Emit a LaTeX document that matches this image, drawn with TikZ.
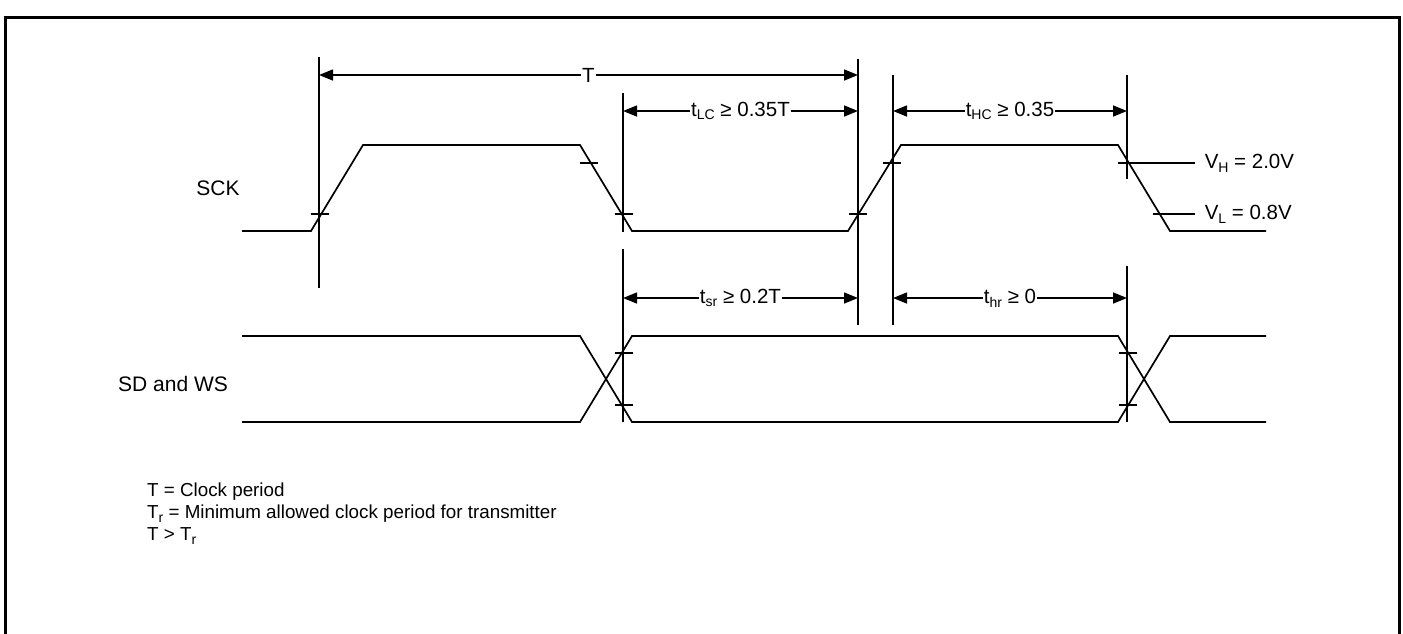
\documentclass[tikz,border=0pt]{standalone}
\usepackage{fontspec}
\setmainfont{Liberation Sans}
\usetikzlibrary{arrows.meta}
\newcommand\lowidx[1]{\raisebox{-0.35ex}{\fontsize{14}{14}\selectfont #1}}
\begin{document}
\begin{tikzpicture}[x=1pt,y=-1pt,
  wave/.style={line width=1.7pt, line join=miter},
  guide/.style={line width=1.7pt},
  tick/.style={line width=1.5pt},
  dim/.style={line width=1.5pt, {Triangle[length=14pt,width=11pt]}-{Triangle[length=14pt,width=11pt]}},
  lbl/.style={fill=white, inner sep=1pt, font=\fontsize{20.5}{24}\selectfont},
  txt/.style={inner sep=0pt, anchor=west, font=\fontsize{20.5}{24}\selectfont},
  sig/.style={inner sep=0pt, font=\fontsize{21}{24}\selectfont},
  note/.style={inner sep=0pt, anchor=west, font=\fontsize{18.8}{22}\selectfont},
]
\useasboundingbox (0,0) rectangle (1403,633);
\draw[line width=3pt] (5,640) -- (5,17) -- (1399,17) -- (1399,640);

% waveforms
\draw[wave] (242,231) -- (311,231) -- (363,145) -- (580,145) -- (632,231) -- (848,231) -- (901,145) -- (1118,145) -- (1170,231) -- (1266,231);
\draw[wave] (242,336) -- (580,336) -- (632,422) -- (1118,422) -- (1170,336) -- (1266,336);
\draw[wave] (242,422) -- (580,422) -- (632,336) -- (1118,336) -- (1170,422) -- (1266,422);

% guide coordinates
\coordinate (v1t) at (319,57);   \coordinate (v1b) at (319,288);
\coordinate (v2t) at (623,93);   \coordinate (v2m) at (623,232);
\coordinate (v2n) at (623,249);  \coordinate (v2b) at (623,422);
\coordinate (v3t) at (858,59);   \coordinate (v3b) at (858,325);
\coordinate (v4t) at (893,75);   \coordinate (v4b) at (893,325);
\coordinate (v5t) at (1127,75);  \coordinate (v5m) at (1127,179);
\coordinate (v5n) at (1127,266); \coordinate (v5b) at (1127,422);
\draw[guide] (v1t) -- (v1b);
\draw[guide] (v2t) -- (v2m);
\draw[guide] (v2n) -- (v2b);
\draw[guide] (v3t) -- (v3b);
\draw[guide] (v4t) -- (v4b);
\draw[guide] (v5t) -- (v5m);
\draw[guide] (v5n) -- (v5b);

% ticks on SCK
\foreach \x/\y in {320/214, 589/163, 624/214, 858/214, 892/163}
  \draw[tick] (\x-9,\y) -- (\x+9,\y);
% ticks on SD and WS
\foreach \x/\y in {624/353, 624/405, 1128/353, 1128/405}
  \draw[tick] (\x-9,\y) -- (\x+9,\y);

% threshold lines
\coordinate (vha) at (1118,163); \coordinate (vhb) at (1195,163);
\coordinate (vla) at (1153,214); \coordinate (vlb) at (1195,214);
\draw[tick] (vha) -- (vhb) node[txt, xshift=9pt] (vh) {V\lowidx{H} = 2.0V};
\draw[tick] (vla) -- (vlb) node[txt, xshift=9pt] (vl) {V\lowidx{L} = 0.8V};

% dimension arrows
\coordinate (ta) at (319,75);   \coordinate (tb) at (858,75);
\coordinate (lca) at (623,111); \coordinate (lcb) at (858,111);
\coordinate (hca) at (893,111); \coordinate (hcb) at (1127,111);
\coordinate (sra) at (623,298); \coordinate (srb) at (858,298);
\coordinate (hra) at (893,298); \coordinate (hrb) at (1127,298);
\draw[dim] (ta) -- node[lbl] (tl) {T} (tb);
\draw[dim] (lca) -- node[lbl] (lcl) {t\lowidx{LC} ≥ 0.35T} (lcb);
\draw[dim] (hca) -- node[lbl] (hcl) {t\lowidx{HC} ≥ 0.35} (hcb);
\draw[dim] (sra) -- node[lbl] (srl) {t\lowidx{sr} ≥ 0.2T} (srb);
\draw[dim] (hra) -- node[lbl] (hrl) {t\lowidx{hr} ≥ 0} (hrb);

% signal names
\node[sig] (sck) at (218,188) {SCK};
\node[sig, anchor=west] (sdws) at (118,384) {SD and WS};

% notes
\node[note] (n1) at (147,492) {T = Clock period};
\node[note] (n2) at (147,514) {T\lowidx{r} = Minimum allowed clock period for transmitter};
\node[note] (n3) at (147,536) {T > T\lowidx{r}};
\end{tikzpicture}
\end{document}
